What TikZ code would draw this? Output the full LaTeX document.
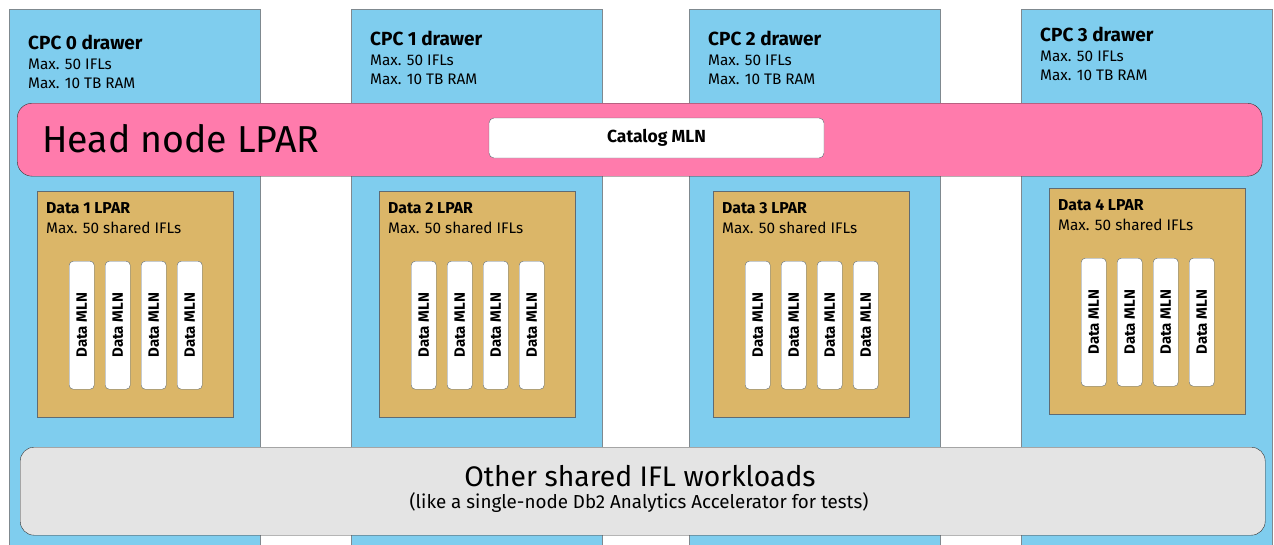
\documentclass[tikz,border=0pt]{standalone}
\usepackage{fontspec}
\setmainfont{Fira Sans}
\usetikzlibrary{positioning}
\definecolor{drawerblue}{HTML}{7FCDEE}
\definecolor{headpink}{HTML}{FF7BAC}
\definecolor{lpartan}{HTML}{DBB668}
\definecolor{othergray}{HTML}{E4E4E4}
\definecolor{edgegray}{HTML}{5F6B73}

\tikzset{
  drawer/.style={draw=edgegray!80, fill=drawerblue, anchor=north west, inner sep=0pt,
    minimum width=251pt, minimum height=560pt},
  lpar/.style={draw=edgegray, fill=lpartan, anchor=north west, inner sep=0pt,
    minimum width=196pt, minimum height=226pt},
  mln/.style={draw=edgegray, fill=white, rounded corners=4pt, anchor=north west, inner sep=0pt,
    minimum width=25pt, minimum height=128pt},
  mlntext/.style={rotate=90, inner sep=0pt, font=\fontsize{15}{17}\selectfont\bfseries},
  title/.style={anchor=base west, inner sep=0pt, font=\fontsize{19}{22}\selectfont\bfseries},
  sub/.style={anchor=base west, inner sep=0pt, font=\fontsize{15.3}{18}\selectfont},
}

\begin{document}
\begin{tikzpicture}[x=1pt, y=-1pt]
  \clip (0,0) rectangle (1274,544);

  % CPC drawers
  \foreach \i/\x/\ty in {0/9/49, 1/351/45, 2/689/45, 3/1021/41} {
    \node[drawer] (cpc\i) at (\x,9) {};
    \node[title] (cpc\i-t) at (\x+19,\ty) {CPC \i\ drawer};
    \node[sub] (cpc\i-a) at (\x+19,\ty+20) {Max. 50 IFLs};
    \node[sub] (cpc\i-b) at (\x+19,\ty+39) {Max. 10 TB RAM};
  }

  % head node spanning all drawers
  \node[draw=black!80, fill=headpink, rounded corners=15pt, anchor=north west, inner sep=0pt,
    minimum width=1245pt, minimum height=73pt] (head) at (17,103) {};
  \node[anchor=base west, inner sep=0pt, font=\fontsize{37.5}{42}\selectfont] (head-t) at (42,152) {Head node LPAR};
  \node[draw=edgegray, fill=white, rounded corners=5pt, inner sep=0pt, minimum width=335pt,
    minimum height=40pt, font=\fontsize{17.5}{20}\selectfont\bfseries] (cat) at (656.5,138) {Catalog MLN};

  % data LPARs with their MLNs
  \foreach \i/\x/\y in {1/37/191, 2/379/191, 3/713/191, 4/1049/188} {
    \node[lpar] (data\i) at (\x,\y) {};
    \node[title, font=\fontsize{15.8}{18}\selectfont\bfseries] (data\i-t) at (\x+9,\y+22) {Data \i\ LPAR};
    \node[sub] (data\i-a) at (\x+9,\y+42) {Max. 50 shared IFLs};
    \foreach \j in {0,...,3} {
      \node[mln] (mln\i-\j) at (\x+32+36*\j,\y+70) {};
      \node[mlntext] (mln\i-\j-t) at (mln\i-\j.center) {Data MLN};
    }
  }

  % other workloads
  \node[draw=black!80, fill=othergray, rounded corners=14pt, anchor=north west, inner sep=0pt,
    minimum width=1245pt, minimum height=88pt] (other) at (20,447) {};
  \node[font=\fontsize{28.3}{32}\selectfont, anchor=base, inner sep=0pt] (other-t) at (640,486) {Other shared IFL workloads};
  \node[font=\fontsize{18.8}{22}\selectfont, anchor=base, inner sep=0pt] (other-a) at (639,508)
    {(like a single-node Db2 Analytics Accelerator for tests)};
\end{tikzpicture}
\end{document}
